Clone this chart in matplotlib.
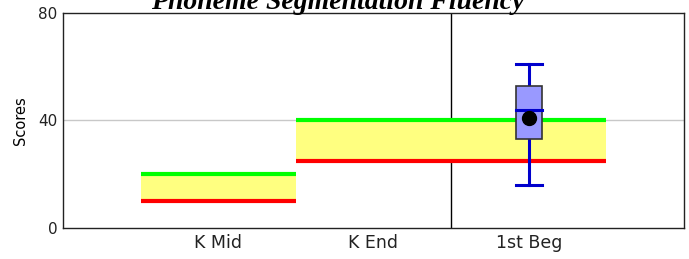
import matplotlib
matplotlib.use("Agg")
import matplotlib.pyplot as plt
from matplotlib.patches import Rectangle

# ---------------------------------------------------------------------------
#  Data
# ---------------------------------------------------------------------------
categories = ["K Mid", "K End", "1st Beg"]
band_low = [10, 25, 25]
band_high = [20, 40, 40]

# box plot summary for 1st Beg
box_pos = 2
whisker_low, q1, median, q3, whisker_high = 16, 33, 44, 53, 61
mean_val = 41

y_ticks = [0, 40, 80]

# ---------------------------------------------------------------------------
#  Figure
# ---------------------------------------------------------------------------
fig = plt.figure(figsize=(6.89, 2.59), dpi=100)
ax = fig.add_axes([0.0914, 0.1197, 0.9013, 0.8301])

ax.set_xlim(-1, 3)
ax.set_ylim(0, 80)

ax.axhline(40, color="#c8c8c8", linewidth=1, zorder=0)
ax.axvline(1.5, color="black", linewidth=1, zorder=1)

for i, (lo, hi) in enumerate(zip(band_low, band_high)):
    ax.fill_between([i - 0.5, i + 0.5], lo, hi, color="#ffff80",
                    linewidth=0, zorder=2)
    ax.plot([i - 0.5, i + 0.5], [hi, hi], color="#00ff00", linewidth=3,
            solid_capstyle="butt", zorder=3)
    ax.plot([i - 0.5, i + 0.5], [lo, lo], color="#ff0000", linewidth=3,
            solid_capstyle="butt", zorder=3)

# box plot
hw = 0.083
wc = "#0000cc"
ax.plot([box_pos, box_pos], [whisker_low, q1], color=wc, lw=2.2, zorder=4)
ax.plot([box_pos, box_pos], [q3, whisker_high], color=wc, lw=2.2, zorder=4)
ax.plot([box_pos - hw, box_pos + hw], [whisker_low] * 2, color=wc, lw=2.2,
        zorder=4)
ax.plot([box_pos - hw, box_pos + hw], [whisker_high] * 2, color=wc, lw=2.2,
        zorder=4)
ax.add_patch(Rectangle((box_pos - hw, q1), 2 * hw, q3 - q1,
                       facecolor="#9999ff", edgecolor="#333333",
                       linewidth=1.2, zorder=5))
ax.plot([box_pos - hw, box_pos + hw], [median] * 2, color=wc, lw=2.2,
        zorder=6)
ax.plot(box_pos, mean_val, "o", color="black", markersize=10, zorder=7)

ax.set_xticks(range(len(categories)))
ax.set_xticklabels(categories, fontsize=12.5, color="#222222")
ax.set_yticks(y_ticks)
ax.set_yticklabels([str(v) for v in y_ticks], fontsize=11, color="#222222")
ax.tick_params(length=0, pad=4)
ax.set_ylabel("Scores", fontsize=10.5, labelpad=7)

for sp in ax.spines.values():
    sp.set_linewidth(1)
    sp.set_color("#222222")

# title sits partly above the canvas, as in the reference
fig.text(0.49, 1 - 9 / 259, "Phoneme Segmentation Fluency",
         ha="center", va="baseline", fontsize=20, fontweight="bold",
         fontstyle="italic", family="Liberation Serif")

fig.savefig("out.png", dpi=100)
